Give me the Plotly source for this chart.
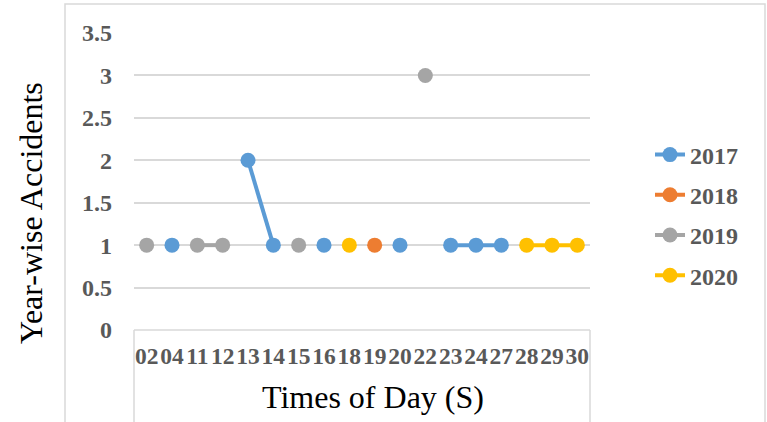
import plotly.graph_objects as go

times = ["02", "04", "11", "12", "13", "14", "15", "16", "18", "19",
         "20", "22", "23", "24", "27", "28", "29", "30"]
y2017 = [None, 1, None, None, 2, 1, None, 1, None, None, 1, None, 1, 1, 1, None, None, None]
y2018 = [None, None, None, None, None, None, None, None, None, 1, None, None, None, None, None, None, None, None]
y2019 = [1, None, 1, 1, None, None, 1, None, None, None, None, 3, None, None, None, None, None, None]
y2020 = [None, None, None, None, None, None, None, None, 1, None, None, None, None, None, None, 1, 1, 1]
years = ["2017", "2018", "2019", "2020"]
colors = ["#5B9BD5", "#ED7D31", "#A5A5A5", "#FFC000"]
yticks = [0, 0.5, 1, 1.5, 2, 2.5, 3, 3.5]
ytick_text = ["0", "0.5", "1", "1.5", "2", "2.5", "3", "3.5"]

W, H = 767, 422
L, R, T, B = 134, 177, 33, 92
pw, ph = W - L - R, H - T - B

def px(x):
    return (x - L) / pw

def py(y):
    return (H - B - y) / ph

fig = go.Figure()
for name, vals, c in zip(years, [y2017, y2018, y2019, y2020], colors):
    fig.add_trace(go.Scatter(
        x=times, y=vals, name=name, mode="lines+markers",
        connectgaps=False, legendgroup=name,
        line=dict(color=c, width=4),
        marker=dict(color=c, size=15),
    ))

fig.update_layout(
    width=W, height=H,
    margin=dict(l=L, r=R, t=T, b=B, autoexpand=False),
    paper_bgcolor="white", plot_bgcolor="white",
    font=dict(family="Liberation Serif", color="#595959"),
    showlegend=True,
    legend=dict(x=px(650), xanchor="left", y=py(215), yanchor="middle",
                font=dict(size=24, family="Liberation Serif", color="#595959", weight="bold"),
                tracegroupgap=6),
    xaxis=dict(type="category", categoryorder="array", categoryarray=times,
               tickmode="array", tickvals=times, ticktext=times, tickangle=0,
               showgrid=False, showline=False, zeroline=False, ticks="",
               tickfont=dict(size=23.5, family="Liberation Serif", color="#595959", weight="bold"),
               ticklabelstandoff=9, range=[-0.5, len(times) - 0.5]),
    yaxis=dict(range=[0, 3.5], tickvals=yticks, ticktext=ytick_text,
               showgrid=True, gridcolor="#D9D9D9", gridwidth=1.5,
               zeroline=False, showline=False, ticks="",
               tickfont=dict(size=24, family="Liberation Serif", color="#595959", weight="bold"),
               ticklabelstandoff=21),
    shapes=[
        dict(type="rect", xref="paper", yref="paper", x0=px(65), x1=px(765), y0=py(425), y1=py(4),
             line=dict(color="#D9D9D9", width=1.5), layer="below"),
        dict(type="line", xref="paper", yref="paper", x0=0, x1=1, y0=0, y1=0,
             line=dict(color="#D9D9D9", width=1.5)),
        dict(type="line", xref="paper", yref="paper", x0=0, x1=0, y0=0, y1=py(425),
             line=dict(color="#D9D9D9", width=1.5)),
        dict(type="line", xref="paper", yref="paper", x0=1, x1=1, y0=0, y1=py(425),
             line=dict(color="#D9D9D9", width=1.5)),
    ],
    annotations=[
        dict(text="Year-wise Accidents", xref="paper", yref="paper", x=px(31), y=py(213),
             xanchor="center", yanchor="middle",
             textangle=-90, showarrow=False, font=dict(size=32, family="Liberation Serif", color="black")),
        dict(text="Times of Day (S)", xref="paper", yref="paper", x=px(373), y=py(397),
             xanchor="center", yanchor="middle",
             showarrow=False, font=dict(size=32, family="Liberation Serif", color="black")),
    ],
)

fig.write_html("out.html")
